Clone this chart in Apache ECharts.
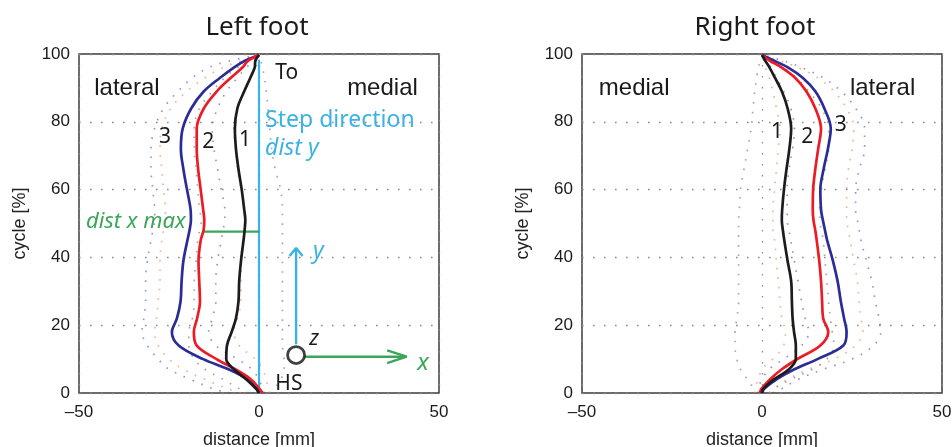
<!DOCTYPE html>
<html><head><meta charset="utf-8">
<script src="https://cdn.jsdelivr.net/npm/echarts@6/dist/echarts.min.js"></script>
<style>html,body{margin:0;padding:0;background:#fff}#c{width:952px;height:447px}</style>
</head><body><div id="c"></div>
<script>
// gait cycle [%] sample points (shared by all curves)
const cycle = [0, 1, 4, 7, 10, 14, 18, 22, 27, 33, 39, 45, 48, 51, 54, 60, 66, 72, 78, 84, 89, 93, 96, 98, 99.7];

// LEFT FOOT mean curves: distance [mm]
const leftBlack = [0, -0.6, -3.5, -7.0, -9.1, -8.9, -7.6, -6.4, -5.7, -5.5, -5.0, -4.3, -4.0, -3.8, -4.1, -4.8, -5.7, -6.4, -6.7, -6.0, -4.1, -2.4, -1.2, -1.0, 0];
const leftRed   = [1.0, 0.3, -2.2, -6.6, -11.8, -17.3, -18.1, -17.2, -16.4, -16.6, -16.8, -16.2, -15.4, -15.2, -15.5, -16.2, -16.9, -17.3, -17.3, -15.3, -11.7, -7.8, -4.6, -3.0, 0];
const leftBlue  = [-0.2, -0.5, -3.2, -8.5, -15.5, -22.3, -24.2, -22.8, -21.8, -21.5, -21.0, -19.9, -19.3, -18.9, -19.0, -20.0, -21.0, -21.7, -21.2, -18.8, -15.3, -10.8, -7.0, -3.9, 0];
// LEFT FOOT dotted envelopes
const leftBlackLo = [-3, -5, -10, -15, -18, -19.5, -19.5, -18.5, -18, -18, -17.5, -17, -16.5, -16, -16.5, -17, -17.5, -18, -18, -16.5, -13, -9.5, -6, -3, 0];
const leftBlackHi = [3, 4, 6, 7, 7, 6.5, 6.5, 6.5, 6.5, 6.5, 6.5, 6.5, 6.5, 6.5, 6.5, 6, 4.5, 3.5, 3, 2.5, 2, 1.5, 1, 0.5, 0];
const leftRedLo   = [-5, -8, -15, -21, -25, -28, -29, -28.5, -28, -27.5, -27.5, -27, -26.5, -26, -26, -26.5, -27, -27.5, -27, -24.5, -20, -15, -10, -5, 0];
const leftRedHi   = [3, 2.5, 2, 1, -1, -5.5, -7, -6, -5, -5, -5, -4.5, -4, -4, -4, -5, -6, -6.5, -7, -6, -4, -2.5, -1, 0, 0];
const leftBlueLo  = [-8, -12, -19, -25, -28, -31, -32.5, -32, -31.5, -31.5, -31, -30, -29.5, -29, -29, -29.5, -30, -30, -29, -26.5, -22.5, -18.5, -14, -8, 0];
const leftBlueHi  = [1.5, 1, 0, -2, -6, -12, -14, -13, -12, -12, -11.5, -10.5, -10, -9.5, -9.5, -10.5, -11.5, -12.5, -13, -11.5, -9, -6, -3.5, -1.5, 0];

// RIGHT FOOT mean curves
const rightBlack = [0, 0.2, 3.3, 7.5, 9.4, 9.4, 8.9, 8.5, 8.3, 8.1, 7.1, 6.2, 5.8, 5.5, 5.6, 6.1, 6.8, 7.6, 8.1, 7.1, 5.5, 3.6, 2.1, 0.9, 0];
const rightRed   = [-0.5, -0.3, 2.2, 5.5, 9.8, 16.2, 18.4, 17.0, 16.7, 16.4, 15.9, 15.2, 14.8, 14.3, 14.1, 14.2, 14.8, 15.6, 16.4, 14.8, 12.3, 9.2, 5.5, 2.2, 0];
const rightBlue  = [0.2, 0.4, 4.0, 9.0, 15.4, 22.6, 23.5, 22.8, 21.9, 21.0, 19.7, 18.1, 17.5, 16.9, 16.4, 16.2, 17.1, 18.3, 19.1, 17.3, 14.8, 11.3, 7.3, 3.4, 0];
// RIGHT FOOT dotted envelopes
const rightBlackLo = [-1, -2, -4, -6, -7, -7.5, -7.5, -7, -6.5, -6.5, -6.5, -6.5, -6.5, -6.5, -6.3, -6, -5, -4, -3, -2.5, -2, -1.5, -1, -0.5, 0];
const rightBlackHi = [2, 3, 8, 14, 18, 20, 19.5, 19, 18.5, 18, 17.5, 17, 16.5, 16, 16, 16.5, 17.5, 18.5, 18.5, 16.5, 13, 9.5, 6, 3, 0];
const rightRedLo   = [-2, -2, -1, 0, 3, 6, 6.5, 5.5, 5, 4.5, 4, 3.5, 3, 3, 3, 3.5, 4, 4.5, 5, 4, 3, 2, 1, 0.5, 0];
const rightRedHi   = [2, 3, 7, 13, 20, 26, 28, 27.5, 27, 26.5, 25.5, 24.5, 24, 23.5, 23.5, 23.5, 24, 25, 25.5, 23.5, 20, 15.5, 10, 5, 0];
const rightBlueLo  = [-1, -1, 0, 2, 6, 11, 13, 12, 11, 10, 9, 8, 7.5, 7, 7, 7, 7.5, 8.5, 9, 8, 6, 4, 2.5, 1, 0];
const rightBlueHi  = [3, 5, 10, 17, 25, 31, 33, 32.5, 31.5, 30.5, 29, 27.5, 27, 26.5, 26, 26, 27, 28.5, 28.5, 26, 22, 17, 11, 6, 0];

// axis ticks
const xTicks = [-50, 0, 50];
const yTicks = [0, 20, 40, 60, 80, 100];

// annotation geometry (data units, left foot)
const stepLine = [[0, 0], [0, 98.3]];
const distXMax = [[-15.3, 47.6], [0, 47.6]];
const yArrowShaft = [[10.3, 14.4], [10.3, 42.8]];
const yArrowHead = [[8.5, 40.4], [10.3, 42.8], [12.1, 40.4]];
const xArrowShaft = [[12.6, 10.7], [41.0, 10.7]];
const xArrowHead = [[35.6, 12.6], [41.0, 10.7], [35.6, 8.8]];
const zCircle = [[10.3, 11.2]];

const labelsLeft = [
  {t: 'lateral', x: -36.7, y: 89.8, k: 'side'},
  {t: 'medial', x: 34.3, y: 89.8, k: 'side'},
  {t: '3', x: -26.1, y: 75.6, k: 'num'},
  {t: '2', x: -14.1, y: 74.1, k: 'num'},
  {t: '1', x: -3.9, y: 74.6, k: 'num'},
  {t: 'To', x: 7.7, y: 94.5, k: 'num'},
  {t: 'HS', x: 8.3, y: 2.7, k: 'num'},
  {t: 'Step direction', x: 1.7, y: 80.5, k: 'cyan', a: 'left'},
  {t: 'dist y', x: 1.7, y: 72.1, k: 'cyanI', a: 'left'},
  {t: 'dist x max', x: -20.4, y: 50.4, k: 'greenI', a: 'right'},
  {t: 'y', x: 16.5, y: 41.9, k: 'cyanI'},
  {t: 'z', x: 15.3, y: 16.1, k: 'blackI'},
  {t: 'x', x: 45.6, y: 8.8, k: 'greenI2'}
];
const labelsRight = [
  {t: 'medial', x: -35.5, y: 89.8, k: 'side'},
  {t: 'lateral', x: 33.5, y: 89.8, k: 'side'},
  {t: '1', x: 4.2, y: 77.1, k: 'num'},
  {t: '2', x: 12.6, y: 75.5, k: 'num'},
  {t: '3', x: 21.9, y: 79.0, k: 'num'}
];

const BLACK = '#1c1c1c', RED = '#ec1c24', BLUE = '#2b2d96';
const CYAN = '#3bb2e4', GREEN = '#3aa65a';
const zip = (xs) => xs.map((v, i) => [v, cycle[i]]);

function meanSeries(xs, color, g) {
  return {type: 'line', xAxisIndex: g, yAxisIndex: g, data: zip(xs), showSymbol: false, smooth: 0.35,
    lineStyle: {color, width: 2.7}, z: 5, silent: true, animation: false};
}
function envSeries(xs, color, g) {
  return {type: 'line', xAxisIndex: g, yAxisIndex: g, data: zip(xs), showSymbol: false, smooth: 0.35,
    lineStyle: {color, width: 1.7, type: [1.6, 8], opacity: 0.6}, z: 2, silent: true, animation: false};
}
function plainLine(data, color, w, z) {
  return {type: 'line', xAxisIndex: 0, yAxisIndex: 0, data, showSymbol: false,
    lineStyle: {color, width: w}, z: z || 4, silent: true, animation: false};
}
function xAx(g) {
  return {gridIndex: g, type: 'value', min: -50, max: 50, interval: 50,
    name: 'distance [mm]', nameLocation: 'middle', nameGap: 38,
    nameTextStyle: {fontFamily: 'Liberation Sans', fontSize: 18, color: '#222'},
    axisLine: {show: false}, axisTick: {show: false},
    axisLabel: {fontFamily: 'Liberation Sans', fontSize: 17, color: '#1a1a1a', margin: 11,
      formatter: v => xTicks.includes(v) ? (v < 0 ? '\u2013' + Math.abs(v) : String(v)) : ''},
    splitLine: {show: true, lineStyle: {color: '#8c8c8c', width: 1.3, type: [1.6, 9.4]}}};
}
function yAx(g) {
  return {gridIndex: g, type: 'value', min: 0, max: 100, interval: 20,
    name: 'cycle [%]', nameLocation: 'middle', nameGap: 50,
    nameTextStyle: {fontFamily: 'Liberation Sans', fontSize: 18, color: '#222'},
    axisLine: {show: false}, axisTick: {show: false},
    axisLabel: {fontFamily: 'Liberation Sans', fontSize: 17, color: '#1a1a1a', margin: 9,
      formatter: v => yTicks.includes(v) ? String(v) : ''},
    splitLine: {show: true, lineStyle: {color: '#8c8c8c', width: 1.3, type: [1.6, 9.4]}}};
}

const chart = echarts.init(document.getElementById('c'), null, {renderer: 'canvas'});
chart.setOption({
  animation: false,
  backgroundColor: '#fff',
  title: [
    {text: 'Left foot', left: 252, top: 10, textAlign: 'center',
      textStyle: {fontFamily: 'Noto Sans', fontSize: 26, fontWeight: 'normal', color: '#1a1a1a'}},
    {text: 'Right foot', left: 750, top: 10, textAlign: 'center',
      textStyle: {fontFamily: 'Noto Sans', fontSize: 26, fontWeight: 'normal', color: '#1a1a1a'}}
  ],
  grid: [
    {left: 79, top: 54, width: 360, height: 339, show: true, borderColor: '#3c3c3c', borderWidth: 1.5, backgroundColor: '#fff', containLabel: false, outerBoundsMode: 'none'},
    {left: 582, top: 54, width: 360, height: 339, show: true, borderColor: '#3c3c3c', borderWidth: 1.5, backgroundColor: '#fff', containLabel: false, outerBoundsMode: 'none'}
  ],
  xAxis: [xAx(0), xAx(1)],
  yAxis: [yAx(0), yAx(1)],
  series: [
    envSeries(leftBlackLo, '#6a6a6a', 0), envSeries(leftBlackHi, '#6a6a6a', 0),
    envSeries(leftRedLo, '#ef7d4a', 0), envSeries(leftRedHi, '#ef7d4a', 0),
    envSeries(leftBlueLo, '#4b4ca6', 0), envSeries(leftBlueHi, '#4b4ca6', 0),
    envSeries(rightBlackLo, '#6a6a6a', 1), envSeries(rightBlackHi, '#6a6a6a', 1),
    envSeries(rightRedLo, '#ef7d4a', 1), envSeries(rightRedHi, '#ef7d4a', 1),
    envSeries(rightBlueLo, '#4b4ca6', 1), envSeries(rightBlueHi, '#4b4ca6', 1),
    plainLine(stepLine, CYAN, 2.2, 3),
    plainLine(distXMax, GREEN, 2.4, 4),
    plainLine(yArrowShaft, CYAN, 2.4, 4),
    plainLine(yArrowHead, CYAN, 2.4, 4),
    plainLine(xArrowShaft, GREEN, 2.4, 4),
    plainLine(xArrowHead, GREEN, 2.4, 4),
    {type: 'scatter', xAxisIndex: 0, yAxisIndex: 0, data: zCircle, symbol: 'circle', symbolSize: 17,
      itemStyle: {color: '#fff', borderColor: '#111', borderWidth: 2.8}, z: 6, silent: true},
    meanSeries(leftBlue, BLUE, 0), meanSeries(leftRed, RED, 0), meanSeries(leftBlack, BLACK, 0),
    meanSeries(rightBlue, BLUE, 1), meanSeries(rightRed, RED, 1), meanSeries(rightBlack, BLACK, 1)
  ]
});

const styles = {
  side:   {font: '24px "Liberation Sans"', fill: '#1a1a1a'},
  num:    {font: '21px "Noto Sans"', fill: '#1a1a1a'},
  cyan:   {font: '23px "Noto Sans"', fill: CYAN},
  cyanI:  {font: 'italic 23px "Noto Sans"', fill: CYAN},
  greenI: {font: 'italic 22px "Noto Sans"', fill: GREEN},
  greenI2:{font: 'italic 24px "Noto Sans"', fill: GREEN},
  blackI: {font: 'italic 22px "Noto Sans"', fill: '#1a1a1a'}
};
function mkText(l, g) {
  const p = chart.convertToPixel({gridIndex: g}, [l.x, l.y]);
  const s = styles[l.k];
  return {type: 'text', x: p[0], y: p[1], z: 20, silent: true,
    style: {text: l.t, font: s.font, fill: s.fill, align: l.a || 'center', verticalAlign: 'middle'}};
}
chart.setOption({graphic: labelsLeft.map(l => mkText(l, 0)).concat(labelsRight.map(l => mkText(l, 1)))});
</script>
</body></html>
